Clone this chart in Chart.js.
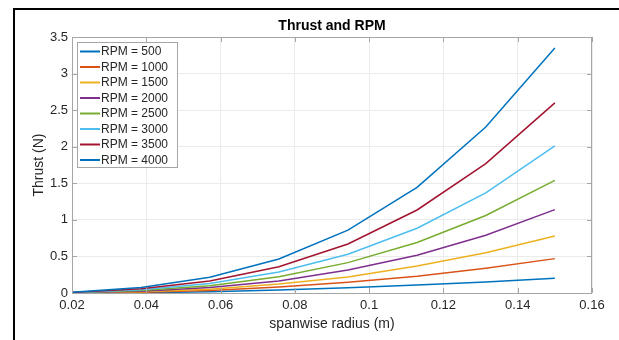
<!DOCTYPE html>
<html>
<head>
<meta charset="utf-8">
<script src="https://cdn.jsdelivr.net/npm/chart.js@4"></script>
<style>
  html, body { margin: 0; padding: 0; background: #fff; }
  canvas { display: block; }
</style>
</head>
<body>
<canvas id="thrustChart" width="619" height="340"></canvas>
<script>
const chartTitle = "Thrust and RPM";
const xTitle = "spanwise radius (m)";
const yTitle = "Thrust (N)";

const radius = [0.02, 0.0386, 0.0571, 0.0757, 0.0943, 0.1129, 0.1314, 0.15];
const rpmLabels = ["RPM = 500", "RPM = 1000", "RPM = 1500", "RPM = 2000",
                   "RPM = 2500", "RPM = 3000", "RPM = 3500", "RPM = 4000"];
const rpm500  = [0.001, 0.005, 0.016, 0.041, 0.073, 0.11, 0.15, 0.20];
const rpm1000 = [0.002, 0.010, 0.033, 0.082, 0.146, 0.23, 0.34, 0.47];
const rpm1500 = [0.003, 0.017, 0.052, 0.123, 0.22, 0.37, 0.55, 0.78];
const rpm2000 = [0.004, 0.025, 0.074, 0.164, 0.315, 0.515, 0.79, 1.14];
const rpm2500 = [0.005, 0.035, 0.10, 0.223, 0.415, 0.69, 1.06, 1.54];
const rpm3000 = [0.006, 0.045, 0.13, 0.287, 0.53, 0.885, 1.37, 2.01];
const rpm3500 = [0.008, 0.058, 0.165, 0.36, 0.67, 1.135, 1.77, 2.60];
const rpm4000 = [0.010, 0.075, 0.215, 0.465, 0.86, 1.445, 2.27, 3.35];
const thrustSeries = [rpm500, rpm1000, rpm1500, rpm2000, rpm2500, rpm3000, rpm3500, rpm4000];

// matlab default line colours
const colores = ["#0072BD", "#D95319", "#EDB120", "#7E2F8E", "#77AC30", "#4DBEEE", "#A2142F", "#0072BD"];

const fontFam = "'Liberation Sans', Arial, Helvetica, sans-serif";
const axisGray = "#a6a6a6";
const textGray = "#262626";

const datasets = thrustSeries.map((serie, i) => ({
  label: rpmLabels[i],
  data: serie.map((v, j) => ({ x: radius[j], y: v })),
  borderColor: colores[i],
  backgroundColor: colores[i],
  borderWidth: 1.5,
  pointRadius: 0,
  tension: 0,
  order: -i, // las ultimas encima, como en matlab
}));

// marco negro de la figura, titulo, caja, ticks hacia adentro y leyenda
const matlabLook = {
  id: "matlabLook",
  beforeDraw(chart) {
    const ctx = chart.ctx;
    ctx.save();
    ctx.fillStyle = "#fff";
    ctx.fillRect(0, 0, chart.width, chart.height);
    ctx.fillStyle = "#000";
    ctx.fillRect(13, 8, 2, chart.height - 8);
    ctx.fillRect(13, 8, chart.width - 13, 2);
    ctx.restore();
  },
  afterDraw(chart) {
    const ctx = chart.ctx;
    const area = chart.chartArea;
    const xs = chart.scales.x;
    const ys = chart.scales.y;
    ctx.save();

    // caja
    ctx.strokeStyle = axisGray;
    ctx.lineWidth = 1;
    ctx.strokeRect(area.left + 0.5, area.top + 0.5, area.right - area.left - 1, area.bottom - area.top);

    // ticks hacia adentro
    ctx.beginPath();
    xs.ticks.forEach((t) => {
      const px = Math.round(xs.getPixelForValue(t.value)) + 0.5;
      ctx.moveTo(px, area.bottom);
      ctx.lineTo(px, area.bottom - 5);
      ctx.moveTo(px, area.top);
      ctx.lineTo(px, area.top + 5);
    });
    ys.ticks.forEach((t) => {
      const py = Math.round(ys.getPixelForValue(t.value)) + 0.5;
      ctx.moveTo(area.left, py);
      ctx.lineTo(area.left + 5, py);
      ctx.moveTo(area.right, py);
      ctx.lineTo(area.right - 5, py);
    });
    ctx.stroke();

    // titulo
    ctx.fillStyle = "#000";
    ctx.font = "bold 14px " + fontFam;
    ctx.textAlign = "center";
    ctx.textBaseline = "middle";
    ctx.fillText(chartTitle, (area.left + area.right) / 2, 26.5);

    // leyenda
    const boxX = area.left + 5, boxY = area.top + 5;
    const boxW = 100, boxH = 125;
    ctx.fillStyle = "#fff";
    ctx.fillRect(boxX, boxY, boxW, boxH);
    ctx.strokeStyle = axisGray;
    ctx.strokeRect(boxX + 0.5, boxY + 0.5, boxW, boxH);
    ctx.font = "12px " + fontFam;
    ctx.textAlign = "left";
    chart.data.datasets.forEach((ds, i) => {
      const cy = boxY + 9.5 + i * 15.5;
      ctx.strokeStyle = ds.borderColor;
      ctx.lineWidth = 2;
      ctx.beginPath();
      ctx.moveTo(boxX + 3, cy);
      ctx.lineTo(boxX + 23, cy);
      ctx.stroke();
      ctx.fillStyle = textGray;
      ctx.fillText(ds.label, boxX + 24, cy + 0.5);
    });
    ctx.restore();
  }
};

const ctx = document.getElementById("thrustChart").getContext("2d");
const thrustChart = new Chart(ctx, {
  type: "line",
  data: { datasets },
  plugins: [matlabLook],
  options: {
    responsive: false,
    devicePixelRatio: 1,
    animation: false,
    layout: { padding: { top: 37, right: 27, bottom: 0, left: 0 } },
    plugins: {
      legend: { display: false },
      tooltip: { enabled: false },
      title: { display: false }
    },
    scales: {
      x: {
        type: "linear",
        min: 0.02,
        max: 0.16,
        ticks: {
          stepSize: 0.02,
          padding: 5,
          color: textGray,
          font: { family: fontFam, size: 13 },
          maxRotation: 0,
          callback: (v) => String(+v.toFixed(2))
        },
        grid: { color: "#ebebeb", drawTicks: false },
        border: { display: false },
        title: {
          display: true,
          text: xTitle,
          color: textGray,
          font: { family: fontFam, size: 14 },
          padding: { top: 0, bottom: 7 }
        },
        afterFit: (scale) => { scale.height = 47; }
      },
      y: {
        min: 0,
        max: 3.5,
        ticks: {
          stepSize: 0.5,
          padding: 4,
          color: textGray,
          font: { family: fontFam, size: 13 },
          callback: (v) => String(+v.toFixed(1))
        },
        grid: { color: "#ebebeb", drawTicks: false },
        border: { display: false },
        title: {
          display: true,
          text: yTitle,
          color: textGray,
          font: { family: fontFam, size: 14 },
          padding: { top: 31, bottom: 0 }
        },
        afterFit: (scale) => { scale.width = 72; }
      }
    }
  }
});
</script>
</body>
</html>
